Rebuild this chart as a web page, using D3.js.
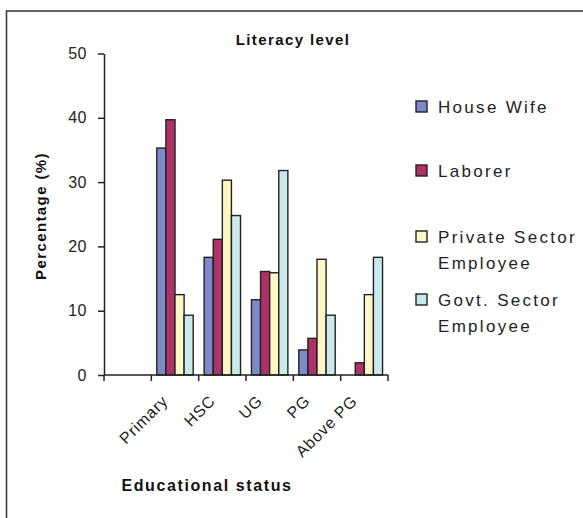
<!DOCTYPE html>
<html>
<head>
<meta charset="utf-8">
<script src="https://cdn.jsdelivr.net/npm/d3@7"></script>
<style>
  body { margin: 0; background: #fff; }
  text { font-family: "Liberation Sans", Arial, sans-serif; fill: #222; }
</style>
</head>
<body>
<div id="chart"></div>
<script>
// Chart data.
var categories = ["", "Primary", "HSC", "UG", "PG", "Above PG"];
var series = ["House Wife", "Laborer", "Private Sector Employee", "Govt. Sector Employee"];
var legend_lines = [["House Wife"], ["Laborer"], ["Private Sector", "Employee"], ["Govt. Sector", "Employee"]];
var house_wife = [null, 35.3, 18.3, 11.7, 3.9, 0];
var laborer = [null, 39.7, 21.1, 16.1, 5.7, 1.9];
var private_sector = [null, 12.5, 30.3, 15.9, 18.0, 12.5];
var govt_sector = [null, 9.3, 24.8, 31.8, 9.3, 18.3];
var y_ticks = [0, 10, 20, 30, 40, 50];
var colors = ["#7d89c9", "#ad3267", "#fdf7c5", "#c9e9eb"];

var values = [house_wife, laborer, private_sector, govt_sector];

// Canvas dimensions.
var width = 583, height = 518;
var plot = {left: 104, right: 388, top: 53.5, bottom: 375};

var svg = d3.select("#chart").append("svg")
    .attr("width", width)
    .attr("height", height);

// Outer frame, only left and top edges visible.
svg.append("rect")
    .attr("x", 6.5).attr("y", 11)
    .attr("width", 700).attr("height", 600)
    .style("fill", "none")
    .style("stroke", "#333")
    .style("stroke-width", 1.5);

// Scales.
var x = d3.scaleBand()
    .domain(categories)
    .range([plot.left, plot.right]);

var x_inner = d3.scaleBand()
    .domain(series)
    .range([0, x.bandwidth()])
    .paddingOuter(0.6);

var y = d3.scaleLinear()
    .domain([0, 50])
    .range([plot.bottom, plot.top]);

// Bars.
var rows = [];
categories.forEach(function(c, i) {
    series.forEach(function(s, j) {
        if (values[j][i] !== null) rows.push({cat: c, ser: s, v: values[j][i], j: j});
    });
});

svg.append("g")
    .selectAll("rect")
    .data(rows.filter(d => d.v > 0))
    .join("rect")
        .attr("x", d => x(d.cat) + x_inner(d.ser))
        .attr("y", d => y(d.v))
        .attr("width", x_inner.bandwidth())
        .attr("height", d => y(0) - y(d.v))
        .style("fill", d => colors[d.j])
        .style("stroke", "#222")
        .style("stroke-width", 1.4);

// Y axis.
var y_axis = svg.append("g")
    .attr("transform", "translate(" + plot.left + ",0)")
    .call(d3.axisLeft(y).tickValues(y_ticks).tickSize(6).tickPadding(11).tickSizeOuter(0));

y_axis.select(".domain").style("stroke", "#222").style("stroke-width", 1.5);
y_axis.selectAll(".tick line").style("stroke", "#222").style("stroke-width", 1.5);
y_axis.selectAll(".tick text")
    .style("font-size", "16px")
    .style("letter-spacing", "0.5px")
    .style("fill", "#222")
    .style("font-family", "'Liberation Sans', Arial, sans-serif");

// X axis: line with ticks on category boundaries.
var x_edges = categories.map(c => x(c)).concat([plot.right]);
var x_axis = svg.append("g");

x_axis.append("line")
    .attr("x1", plot.left).attr("x2", plot.right)
    .attr("y1", plot.bottom).attr("y2", plot.bottom)
    .style("stroke", "#222").style("stroke-width", 1.5);

x_axis.selectAll("line.tick")
    .data(x_edges)
    .join("line")
        .attr("class", "tick")
        .attr("x1", d => d).attr("x2", d => d)
        .attr("y1", plot.bottom).attr("y2", plot.bottom + 6)
        .style("stroke", "#222").style("stroke-width", 1.5);

x_axis.selectAll("text")
    .data(categories.filter(c => c !== ""))
    .join("text")
        .attr("transform", d => "translate(" + (x(d) + x.bandwidth() / 2 - 6) + "," + (plot.bottom + 27) + ") rotate(-45)")
        .attr("text-anchor", "end")
        .style("font-size", "16px")
        .style("letter-spacing", "0.8px")
        .text(d => d);

// Titles.
svg.append("text")
    .attr("x", 293).attr("y", 45)
    .attr("text-anchor", "middle")
    .style("font-size", "15px")
    .style("font-weight", "bold")
    .style("letter-spacing", "1.4px")
    .style("fill", "#111")
    .text("Literacy level");

svg.append("text")
    .attr("transform", "translate(46,216) rotate(-90)")
    .attr("text-anchor", "middle")
    .style("font-size", "15px")
    .style("font-weight", "bold")
    .style("letter-spacing", "1.4px")
    .style("fill", "#111")
    .text("Percentage (%)");

svg.append("text")
    .attr("x", 207).attr("y", 491)
    .attr("text-anchor", "middle")
    .style("font-size", "16px")
    .style("font-weight", "bold")
    .style("letter-spacing", "1.6px")
    .style("fill", "#111")
    .text("Educational status");

// Legend.
var legend_y = [107, 171, 237, 300];
var legend = svg.append("g")
    .selectAll("g")
    .data(series)
    .join("g")
        .attr("transform", (d, i) => "translate(416," + legend_y[i] + ")");

legend.append("rect")
    .attr("x", 0).attr("y", -6)
    .attr("width", 11).attr("height", 11)
    .style("fill", (d, i) => colors[i])
    .style("stroke", "#222")
    .style("stroke-width", 1.4);

legend.append("text")
    .attr("x", 22)
    .style("font-size", "17px")
    .style("letter-spacing", "2.3px")
    .selectAll("tspan")
    .data((d, i) => legend_lines[i])
    .join("tspan")
        .attr("x", 22)
        .attr("dy", (d, k) => k === 0 ? "0.35em" : "26px")
        .text(d => d);
</script>
</body>
</html>
